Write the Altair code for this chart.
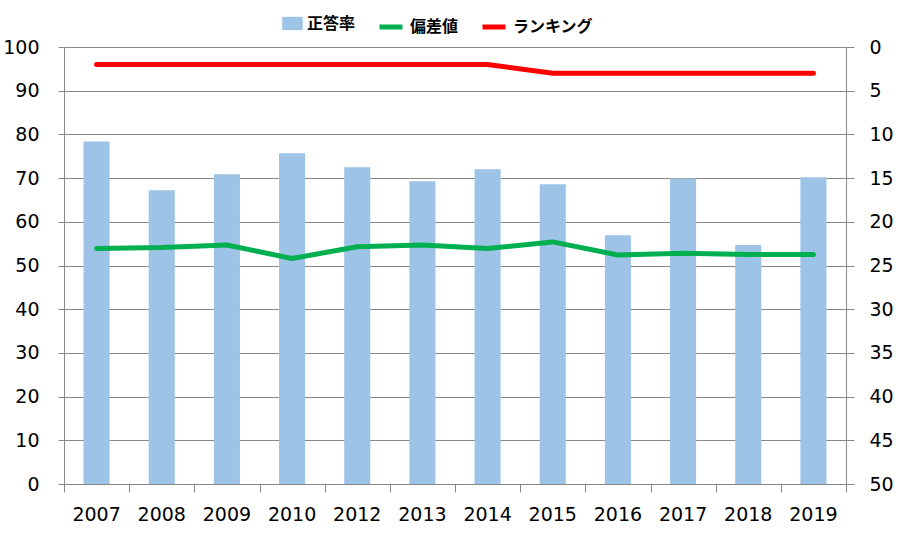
import altair as alt
import pandas as pd

years = ["2007", "2008", "2009", "2010", "2012", "2013", "2014", "2015", "2016", "2017", "2018", "2019"]
rate = [78.4, 67.2, 70.9, 75.7, 72.5, 69.3, 72.0, 68.6, 56.9, 69.9, 54.7, 70.2]
deviation = [53.9, 54.1, 54.7, 51.6, 54.3, 54.7, 53.9, 55.4, 52.4, 52.8, 52.5, 52.5]
ranking = [2, 2, 2, 2, 2, 2, 2, 3, 3, 3, 3, 3]

left_ticks = [0, 10, 20, 30, 40, 50, 60, 70, 80, 90, 100]
right_ticks = [0, 5, 10, 15, 20, 25, 30, 35, 40, 45, 50]
# category boundaries (between years) for the x-axis tick marks
boundary_ticks = list(range(len(years) + 1))

df = pd.DataFrame({"year": years, "rate": rate, "dev": deviation, "rank": ranking})

GRAY = "#898989"
BAR = "#9DC3E6"
GREEN = "#00B050"
RED = "#FF0000"

x_scale = alt.Scale(type="band", paddingInner=0.6, paddingOuter=0.3)

x_axis_enc = alt.X(
    "year:N",
    sort=years,
    scale=x_scale,
    axis=alt.Axis(
        title=None, labelAngle=0, ticks=False, orient="bottom",
        labelPadding=21, domainColor=GRAY, grid=False,
        labelFontSize=19,
    ),
)
x_plain = alt.X("year:N", sort=years, scale=x_scale)

base = alt.Chart(df)

bars = base.transform_calculate(s="'正答率'").mark_bar().encode(
    x=x_axis_enc,
    y=alt.Y(
        "rate:Q",
        scale=alt.Scale(domain=[0, 100], nice=False),
        axis=alt.Axis(
            title=None, values=left_ticks, orient="left", tickSize=6,
            labelPadding=19, domainColor=GRAY, tickColor=GRAY,
            grid=True, gridColor=GRAY, gridWidth=1, labelFontSize=19,
        ),
    ),
    fill=alt.Fill(
        "s:N",
        scale=alt.Scale(domain=["正答率"], range=[BAR]),
        legend=alt.Legend(
            title=None, orient="none", legendX=218, legendY=-34,
            symbolType="M-1,-0.65H1V0.65H-1Z", symbolSize=420,
            symbolStrokeWidth=0, labelOffset=4, padding=0,
        ),
    ),
)

green = base.transform_calculate(series="'偏差値'").mark_line(
    strokeWidth=5, strokeCap="round", strokeJoin="round"
).encode(
    x=x_plain,
    y=alt.Y("dev:Q", scale=alt.Scale(domain=[0, 100], nice=False)),
    stroke=alt.Stroke(
        "series:N",
        scale=alt.Scale(domain=["偏差値", "ランキング"], range=[GREEN, RED]),
        legend=alt.Legend(
            title=None, orient="none", legendX=313, legendY=-34,
            direction="horizontal", symbolType="stroke", symbolSize=529,
            symbolStrokeWidth=5, labelOffset=5, columnPadding=13, padding=0,
        ),
    ),
)

left = alt.layer(bars, green)

red = base.transform_calculate(series="'ランキング'").mark_line(
    strokeWidth=5, strokeCap="round", strokeJoin="round"
).encode(
    x=alt.X("year:N", sort=years, scale=x_scale, axis=None),
    y=alt.Y(
        "rank:Q",
        scale=alt.Scale(domain=[0, 50], reverse=True, nice=False),
        axis=alt.Axis(
            title=None, values=right_ticks, orient="right", tickSize=8,
            labelPadding=15, domainColor=GRAY, tickColor=GRAY, grid=False,
            labelFontSize=19,
        ),
    ),
    stroke=alt.Stroke("series:N"),
)

# invisible layer whose quantitative axis draws ticks at the category boundaries
tick_layer = base.transform_window(idx="row_number()").transform_calculate(
    pos="datum.idx - 0.5"
).mark_point(opacity=0).encode(
    x=alt.X(
        "pos:Q",
        scale=alt.Scale(domain=[0, len(years)], nice=False, zero=False),
        axis=alt.Axis(
            title=None, values=boundary_ticks, orient="bottom", labels=False,
            domain=False, grid=False, ticks=True, tickSize=8, tickColor=GRAY,
        ),
    ),
    y=alt.Y("rank:Q", scale=alt.Scale(domain=[0, 50], reverse=True, nice=False), axis=None),
)

chart = (
    alt.layer(left, red, tick_layer)
    .resolve_scale(y="independent", x="independent")
    .properties(
        width=782,
        height=437,
        autosize=alt.AutoSizeParams(type="none"),
        padding={"left": 64, "top": 47, "right": 59, "bottom": 62},
    )
    .configure_view(stroke=None)
    .configure_axis(labelFont="DejaVu Sans", labelColor="#000000")
    .configure_legend(
        labelFont="Noto Sans CJK JP", labelFontSize=16, labelFontWeight="bold",
        labelColor="#000000", labelLimit=300,
    )
)

chart.save("out.html", embed_options={"renderer": "svg", "actions": False})
